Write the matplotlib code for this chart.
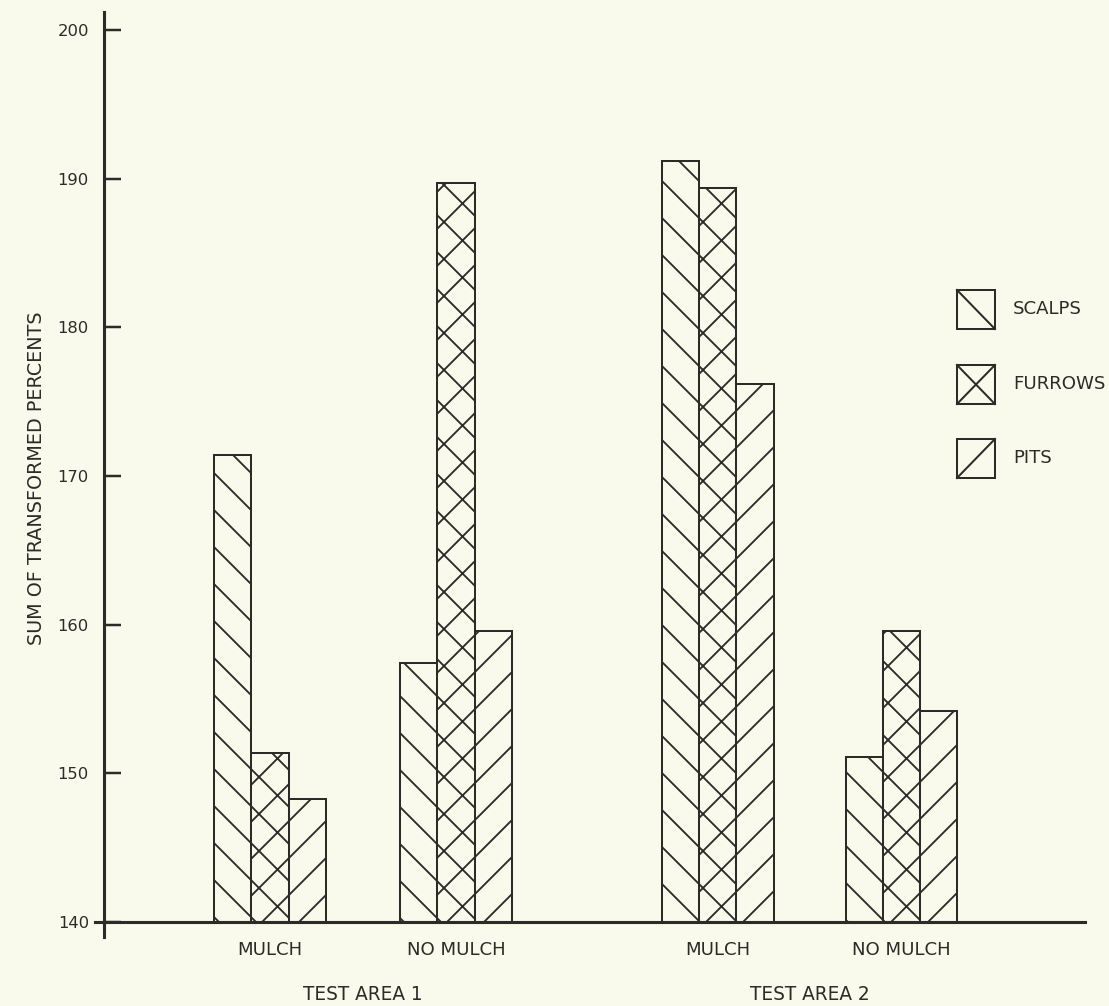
import numpy as np
import matplotlib.pyplot as plt
from matplotlib.patches import Rectangle

plt.rcParams['font.family'] = ['DejaVu Sans']
plt.rcParams['hatch.linewidth'] = 0.6

# data
groups = ['MULCH', 'NO MULCH', 'MULCH', 'NO MULCH']
areas = ['TEST AREA 1', 'TEST AREA 2']
series = ['SCALPS', 'FURROWS', 'PITS']
scalps = [171.4, 157.4, 191.2, 151.1]
furrows = [151.4, 189.7, 189.4, 159.6]
pits = [148.3, 159.6, 176.2, 154.2]
base = 140
yticks = [140, 150, 160, 170, 180, 190, 200]

# layout (bar width = 1 unit)
centers = np.array([4.45, 9.44, 16.45, 21.38])
hatches = ['\\\\', 'xx', '//']

DPI = 222
bg = '#f9faeb'
ink = '#2b2b28'

fig = plt.figure(figsize=(1109 / DPI, 1006 / DPI), dpi=DPI, facecolor=bg)
ax = fig.add_axes([104 / 1109, 1 - 937 / 1006, 981 / 1109, 925 / 1006])
ax.set_facecolor(bg)

for i, vals in enumerate([scalps, furrows, pits]):
    ax.bar(centers + (i - 1), np.array(vals) - base, bottom=base, width=1.0,
           facecolor=bg, edgecolor=ink, linewidth=0.65, hatch=hatches[i])

ax.set_xlim(0, 26.3)
ax.set_ylim(base - 15 / 14.87, 200 + 18 / 14.87)

for s in ['top', 'right', 'bottom']:
    ax.spines[s].set_visible(False)
ax.spines['left'].set_color(ink)
ax.spines['left'].set_linewidth(1.0)
ax.axhline(base, xmin=-9 / 981, xmax=1.0, color=ink, lw=1.0, clip_on=False)

ax.set_yticks(yticks)
ax.tick_params(axis='y', direction='in', length=5.5, width=0.8, pad=4.9,
               labelsize=5.3, colors=ink)
ax.set_xticks(centers, groups)
ax.tick_params(axis='x', length=0, pad=1.3, labelsize=5.9, colors=ink)

for j, name in enumerate(areas):
    xm = (centers[2 * j] + centers[2 * j + 1]) / 2
    ax.text(xm, -0.062, name, transform=ax.get_xaxis_transform(),
            ha='center', va='center', fontsize=6.0, color=ink)

ax.set_ylabel('SUM OF TRANSFORMED PERCENTS', fontsize=6.2, color=ink, va='center')
ax.yaxis.set_label_coords((37 - 104) / 981, (937 - 478) / 925)

# legend drawn by hand: one diagonal per box like the original
bx, bw, bh = 0.8695, 0.0387, 0.0422
for k, (name, y0) in enumerate(zip(series, [0.6573, 0.5762, 0.4962])):
    ax.add_patch(Rectangle((bx, y0), bw, bh, transform=ax.transAxes,
                           facecolor=bg, edgecolor=ink, lw=0.65, clip_on=False))
    if k in (0, 1):
        ax.plot([bx, bx + bw], [y0 + bh, y0], transform=ax.transAxes,
                color=ink, lw=0.65, clip_on=False)
    if k in (1, 2):
        ax.plot([bx, bx + bw], [y0, y0 + bh], transform=ax.transAxes,
                color=ink, lw=0.65, clip_on=False)
    ax.text(0.9266, y0 + bh / 2, name, transform=ax.transAxes,
            ha='left', va='center', fontsize=5.9, color=ink)

fig.savefig('out.png', dpi=DPI, facecolor=bg)
